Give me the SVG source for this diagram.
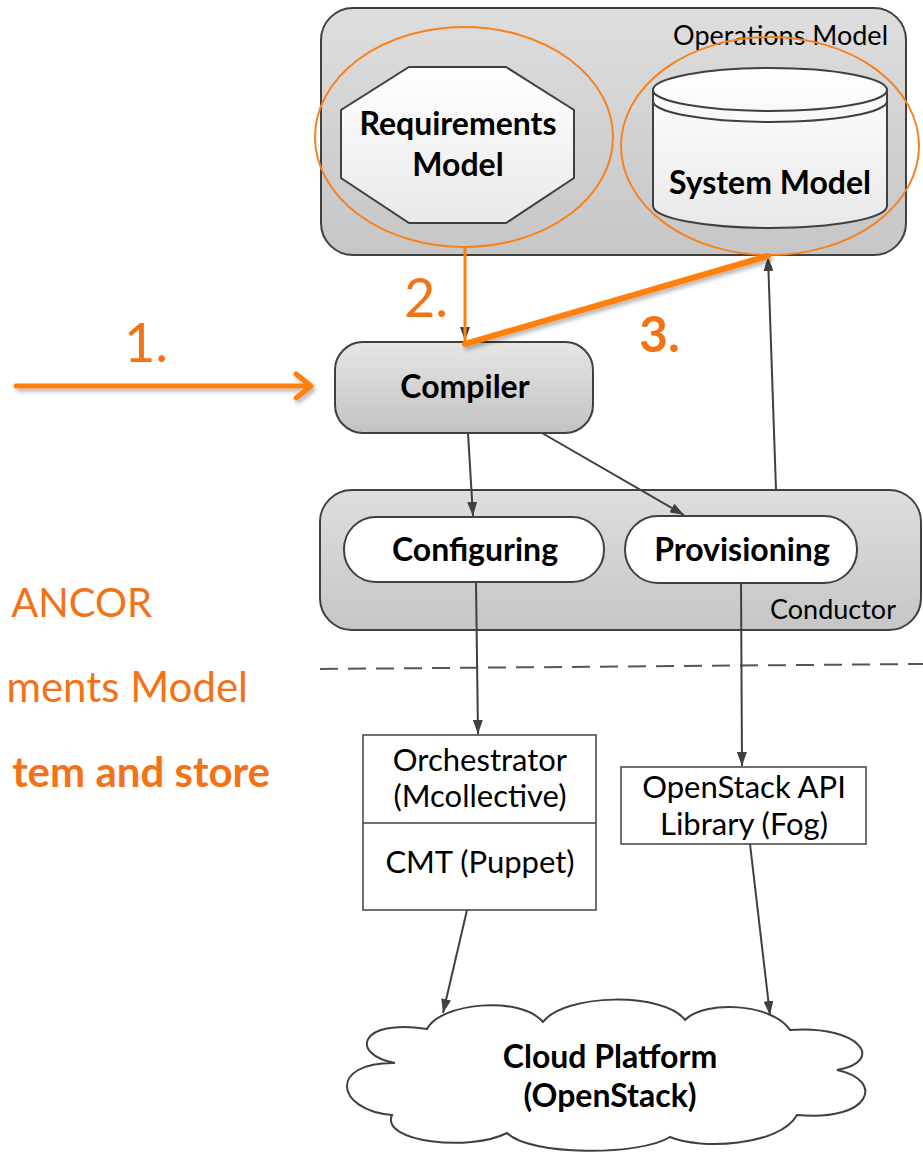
<svg xmlns="http://www.w3.org/2000/svg" width="923" height="1153" viewBox="0 0 923 1153">
  <style>
    .lbl { font-family: Lato, "Open Sans", "Liberation Sans", sans-serif; fill: #000; }
    .b { font-weight: bold; font-size: 32px; }
    .r { font-size: 31px; }
    .cap { font-size: 27px; }
    .mid { text-anchor: middle; }
    .end { text-anchor: end; }
    .edge { stroke: #404040; stroke-width: 2; fill: none; }
    .shape { stroke: #404040; stroke-width: 2; }
    .hl { fill: none; stroke: #f5821f; stroke-width: 2; }
    .note { font-family: Lato, "Open Sans", "Liberation Sans", sans-serif; fill: #f47216; }
  </style>
  <defs>
    <linearGradient id="greyBox" x1="0" y1="0" x2="0" y2="1">
      <stop offset="0" stop-color="#dedede"/>
      <stop offset="1" stop-color="#c6c6c6"/>
    </linearGradient>
    <linearGradient id="greyNode" x1="0" y1="0" x2="0" y2="1">
      <stop offset="0" stop-color="#e6e6e6"/>
      <stop offset="1" stop-color="#c2c2c2"/>
    </linearGradient>
    <linearGradient id="paleNode" x1="0" y1="0" x2="0" y2="1">
      <stop offset="0" stop-color="#ffffff"/>
      <stop offset="1" stop-color="#e9e9e9"/>
    </linearGradient>
    <marker id="tip" viewBox="0 0 14 10" refX="14" refY="5" markerWidth="14" markerHeight="10" markerUnits="userSpaceOnUse" orient="auto">
      <path d="M0,0 L14,5 L0,10 z" fill="#404040"/>
    </marker>
    <filter id="soft" x="-10%" y="-50%" width="120%" height="200%">
      <feDropShadow dx="2" dy="3" stdDeviation="2" flood-color="#000" flood-opacity="0.3"/>
    </filter>
  </defs>

  <!-- Operations Model container -->
  <g id="operations-model">
    <rect x="321" y="8" width="585" height="247" rx="32" fill="url(#greyBox)" class="shape"/>
    <text x="888" y="45" class="lbl cap end">Operations Model</text>
  </g>

  <!-- Requirements Model (octagon) -->
  <g id="requirements-model">
    <polygon points="409,67 506,67 574,110 574,178 506,223 409,223 341,178 341,110" fill="url(#paleNode)" class="shape"/>
    <text x="458" y="135" class="lbl b mid">Requirements</text>
    <text x="458" y="176" class="lbl b mid">Model</text>
  </g>

  <!-- System Model (cylinder) -->
  <g id="system-model">
    <path d="M653,90 L653,206 A117,22 0 0 0 887,206 L887,90 A117,22 0 0 0 653,90 Z" fill="url(#paleNode)" class="shape"/>
    <path d="M653,90 A117,21 0 0 0 887,90" fill="none" class="shape"/>
    <path d="M653,101 A117,21 0 0 0 887,101" fill="none" class="shape"/>
    <text x="770" y="194" class="lbl b mid">System Model</text>
  </g>

  <!-- Compiler -->
  <g id="compiler">
    <rect x="335" y="342" width="258" height="91" rx="28" fill="url(#greyNode)" class="shape"/>
    <text x="465" y="398" class="lbl b mid">Compiler</text>
  </g>

  <!-- Conductor container with its two stages -->
  <g id="conductor">
    <rect x="320" y="490" width="601" height="140" rx="32" fill="url(#greyBox)" class="shape"/>
    <text x="896" y="619" class="lbl cap end">Conductor</text>
  </g>
  <g id="configuring">
    <rect x="344" y="517" width="260" height="65" rx="32" fill="#fff" class="shape"/>
    <text x="475" y="561" class="lbl b mid">Configuring</text>
  </g>
  <g id="provisioning">
    <rect x="625" y="516" width="232" height="67" rx="33" fill="#fff" class="shape"/>
    <text x="742" y="561" class="lbl b mid">Provisioning</text>
  </g>

  <!-- boundary between ANCOR and external tooling -->
  <line x1="320" y1="669" x2="923" y2="664" stroke="#555" stroke-width="2" stroke-dasharray="18 10"/>

  <!-- Orchestrator / CMT stack -->
  <g id="orchestrator">
    <rect x="363" y="735" width="233" height="175" fill="#fff" stroke="#404040" stroke-width="1.5"/>
    <line x1="363" y1="823" x2="596" y2="823" stroke="#404040" stroke-width="1.5"/>
    <text x="480" y="771" class="lbl r mid">Orchestrator</text>
    <text x="480" y="807" class="lbl r mid">(Mcollective)</text>
    <text x="480" y="873" class="lbl r mid">CMT (Puppet)</text>
  </g>

  <!-- OpenStack API library -->
  <g id="openstack-api">
    <rect x="621" y="767" width="245" height="77" fill="#fff" stroke="#404040" stroke-width="1.5"/>
    <text x="744" y="798" class="lbl r mid">OpenStack API</text>
    <text x="744" y="835" class="lbl r mid">Library (Fog)</text>
  </g>

  <!-- Cloud platform -->
  <g id="cloud-platform">
    <path d="M427,1029 C440,1003 520,995 543,1022 C565,993 665,992 685,1020 C705,1000 772,1003 790,1030 C862,1025 885,1062 837,1070 C885,1080 872,1122 797,1115 C780,1146 700,1150 670,1137 C640,1156 530,1156 507,1133 C470,1152 380,1142 392,1115 C335,1110 328,1062 395,1063 C350,1055 358,1018 427,1029 Z" fill="#fff" stroke="#404040" stroke-width="2"/>
    <text x="610" y="1068" class="lbl b mid">Cloud Platform</text>
    <text x="610" y="1107" class="lbl b mid">(OpenStack)</text>
  </g>

  <!-- connectors -->
  <g id="connectors">
    <line x1="465" y1="258" x2="465" y2="341" class="edge" marker-end="url(#tip)"/>
    <line x1="776" y1="490" x2="768" y2="257" class="edge" marker-end="url(#tip)"/>
    <line x1="468" y1="433" x2="473" y2="516" class="edge" marker-end="url(#tip)"/>
    <line x1="542" y1="433" x2="684" y2="515" class="edge" marker-end="url(#tip)"/>
    <line x1="476" y1="583" x2="478" y2="734" class="edge" marker-end="url(#tip)"/>
    <line x1="741" y1="583" x2="742" y2="766" class="edge" marker-end="url(#tip)"/>
    <line x1="467" y1="910" x2="443" y2="1013" class="edge" marker-end="url(#tip)"/>
    <line x1="750" y1="844" x2="770" y2="1015" class="edge" marker-end="url(#tip)"/>
  </g>

  <!-- highlighted walk-through steps -->
  <g id="steps">
    <ellipse cx="464" cy="137" rx="149" ry="110" class="hl"/>
    <ellipse cx="770" cy="146" rx="149" ry="109" class="hl"/>
    <line x1="465" y1="247" x2="465" y2="344" stroke="#ff7f0e" stroke-width="3"/>
    <line x1="465" y1="344" x2="768" y2="256" stroke="#ff7f0e" stroke-width="6" stroke-linecap="round" filter="url(#soft)"/>
    <g filter="url(#soft)" stroke="#ff7f0e" stroke-width="5" fill="none" stroke-linecap="round" stroke-linejoin="round">
      <line x1="16" y1="386" x2="310" y2="386"/>
      <polyline points="296,374 311,386 296,398"/>
    </g>
    <text x="124" y="362" class="note" font-size="54">1.</text>
    <text x="404" y="317" class="note" font-size="54">2.</text>
    <text x="639" y="352" class="note" font-weight="bold" font-size="50">3.</text>
  </g>

  <!-- side notes -->
  <g id="notes">
    <text x="152" y="617" class="note end" font-size="40">ANCOR</text>
    <text x="248" y="702" class="note end" font-size="42">ments Model</text>
    <text x="270" y="787" class="note end" font-weight="bold" font-size="42">tem and store</text>
  </g>
</svg>
